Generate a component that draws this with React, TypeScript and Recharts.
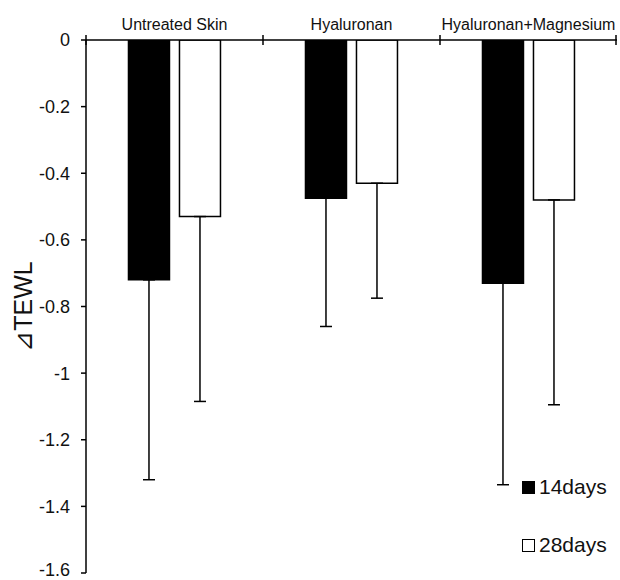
import { BarChart, Bar, XAxis, YAxis, ErrorBar, Legend } from "recharts";

const groups = ["Untreated Skin", "Hyaluronan", "Hyaluronan+Magnesium"];
const days14 = [-0.72, -0.475, -0.73];
const days14Low = [-1.32, -0.86, -1.335];
const days28 = [-0.53, -0.43, -0.48];
const days28Low = [-1.085, -0.775, -1.095];
const yTicks = [0, -0.2, -0.4, -0.6, -0.8, -1, -1.2, -1.4, -1.6];
const edgeTicks = [0, 1, 2, 3];

const data = groups.map((g, i) => ({
  group: g,
  pos: i + 0.5,
  d14: days14[i],
  d28: days28[i],
  // only the downward arm is drawn
  e14: [days14[i] - days14Low[i], 0],
  e28: [days28[i] - days28Low[i], 0],
}));

const FONT = "Arial, 'Liberation Sans', sans-serif";
const INK = "#111";

// tick marks sit on the category boundaries and cross the axis line
function EdgeTick(props: any) {
  const { x, y } = props;
  return <line x1={x} x2={x} y1={y - 5} y2={y + 5} stroke="#000" strokeWidth={1.5} />;
}

function YLabel(props: any) {
  const vb = props.viewBox;
  const cx = vb.x + 23;
  const cy = vb.y + vb.height / 2;
  return (
    <text
      x={cx}
      y={cy}
      transform={`rotate(-90 ${cx} ${cy})`}
      textAnchor="middle"
      dominantBaseline="central"
      fontSize={25}
      fill={INK}
      fontFamily={FONT}
    >
      ⊿TEWL
    </text>
  );
}

function LegendBox({ payload }: any) {
  return (
    <div style={{ fontFamily: FONT }}>
      {(payload ?? []).map((p: any) => (
        <div key={p.value} style={{ display: "flex", alignItems: "center", height: 30, marginBottom: 28 }}>
          <span
            style={{
              display: "inline-block",
              width: 11,
              height: 11,
              background: p.color,
              border: "1.5px solid #000",
              marginRight: 4,
            }}
          />
          <span style={{ fontSize: 21, color: INK }}>{p.value}</span>
        </div>
      ))}
    </div>
  );
}

export default function App() {
  return (
    <div style={{ position: "absolute", left: 0, top: 0, background: "#fff" }}>
      <BarChart
        width={620}
        height={580}
        data={data}
        margin={{ top: 38, right: 3, left: 0, bottom: 7 }}
        barCategoryGap="24%"
        barGap={10}
      >
        <XAxis
          dataKey="group"
          orientation="top"
          height={1}
          axisLine={{ stroke: "#000", strokeWidth: 1.5 }}
          tickLine={false}
          tickSize={6}
          tickMargin={4}
          interval={0}
          tick={{ fontSize: 16, fill: INK, fontFamily: FONT }}
        />
        <XAxis
          xAxisId="edge"
          dataKey="pos"
          type="number"
          orientation="top"
          domain={[0, 3]}
          ticks={edgeTicks}
          allowDataOverflow
          height={1}
          tickLine={false}
          tickSize={-1}
          tickMargin={0}
          tick={<EdgeTick />}
          axisLine={false}
        />
        <YAxis
          domain={[-1.6, 0]}
          ticks={yTicks}
          allowDataOverflow
          width={86}
          tickSize={5}
          tickMargin={11}
          axisLine={{ stroke: "#000", strokeWidth: 1.5 }}
          tickLine={{ stroke: "#000", strokeWidth: 1.5 }}
          tick={{ fontSize: 18, fill: INK, fontFamily: FONT }}
          label={{ content: <YLabel /> }}
        />
        <Legend
          layout="vertical"
          align="center"
          verticalAlign="middle"
          content={<LegendBox />}
          wrapperStyle={{ left: 522, top: 472, width: 98 }}
        />
        <Bar dataKey="d14" name="14days" fill="#000" stroke="#000" strokeWidth={1.5} isAnimationActive={false}>
          <ErrorBar dataKey="e14" width={6} stroke="#000" strokeWidth={1.5} isAnimationActive={false} />
        </Bar>
        <Bar dataKey="d28" name="28days" fill="#fff" stroke="#000" strokeWidth={1.5} isAnimationActive={false}>
          <ErrorBar dataKey="e28" width={6} stroke="#000" strokeWidth={1.5} isAnimationActive={false} />
        </Bar>
      </BarChart>
    </div>
  );
}
